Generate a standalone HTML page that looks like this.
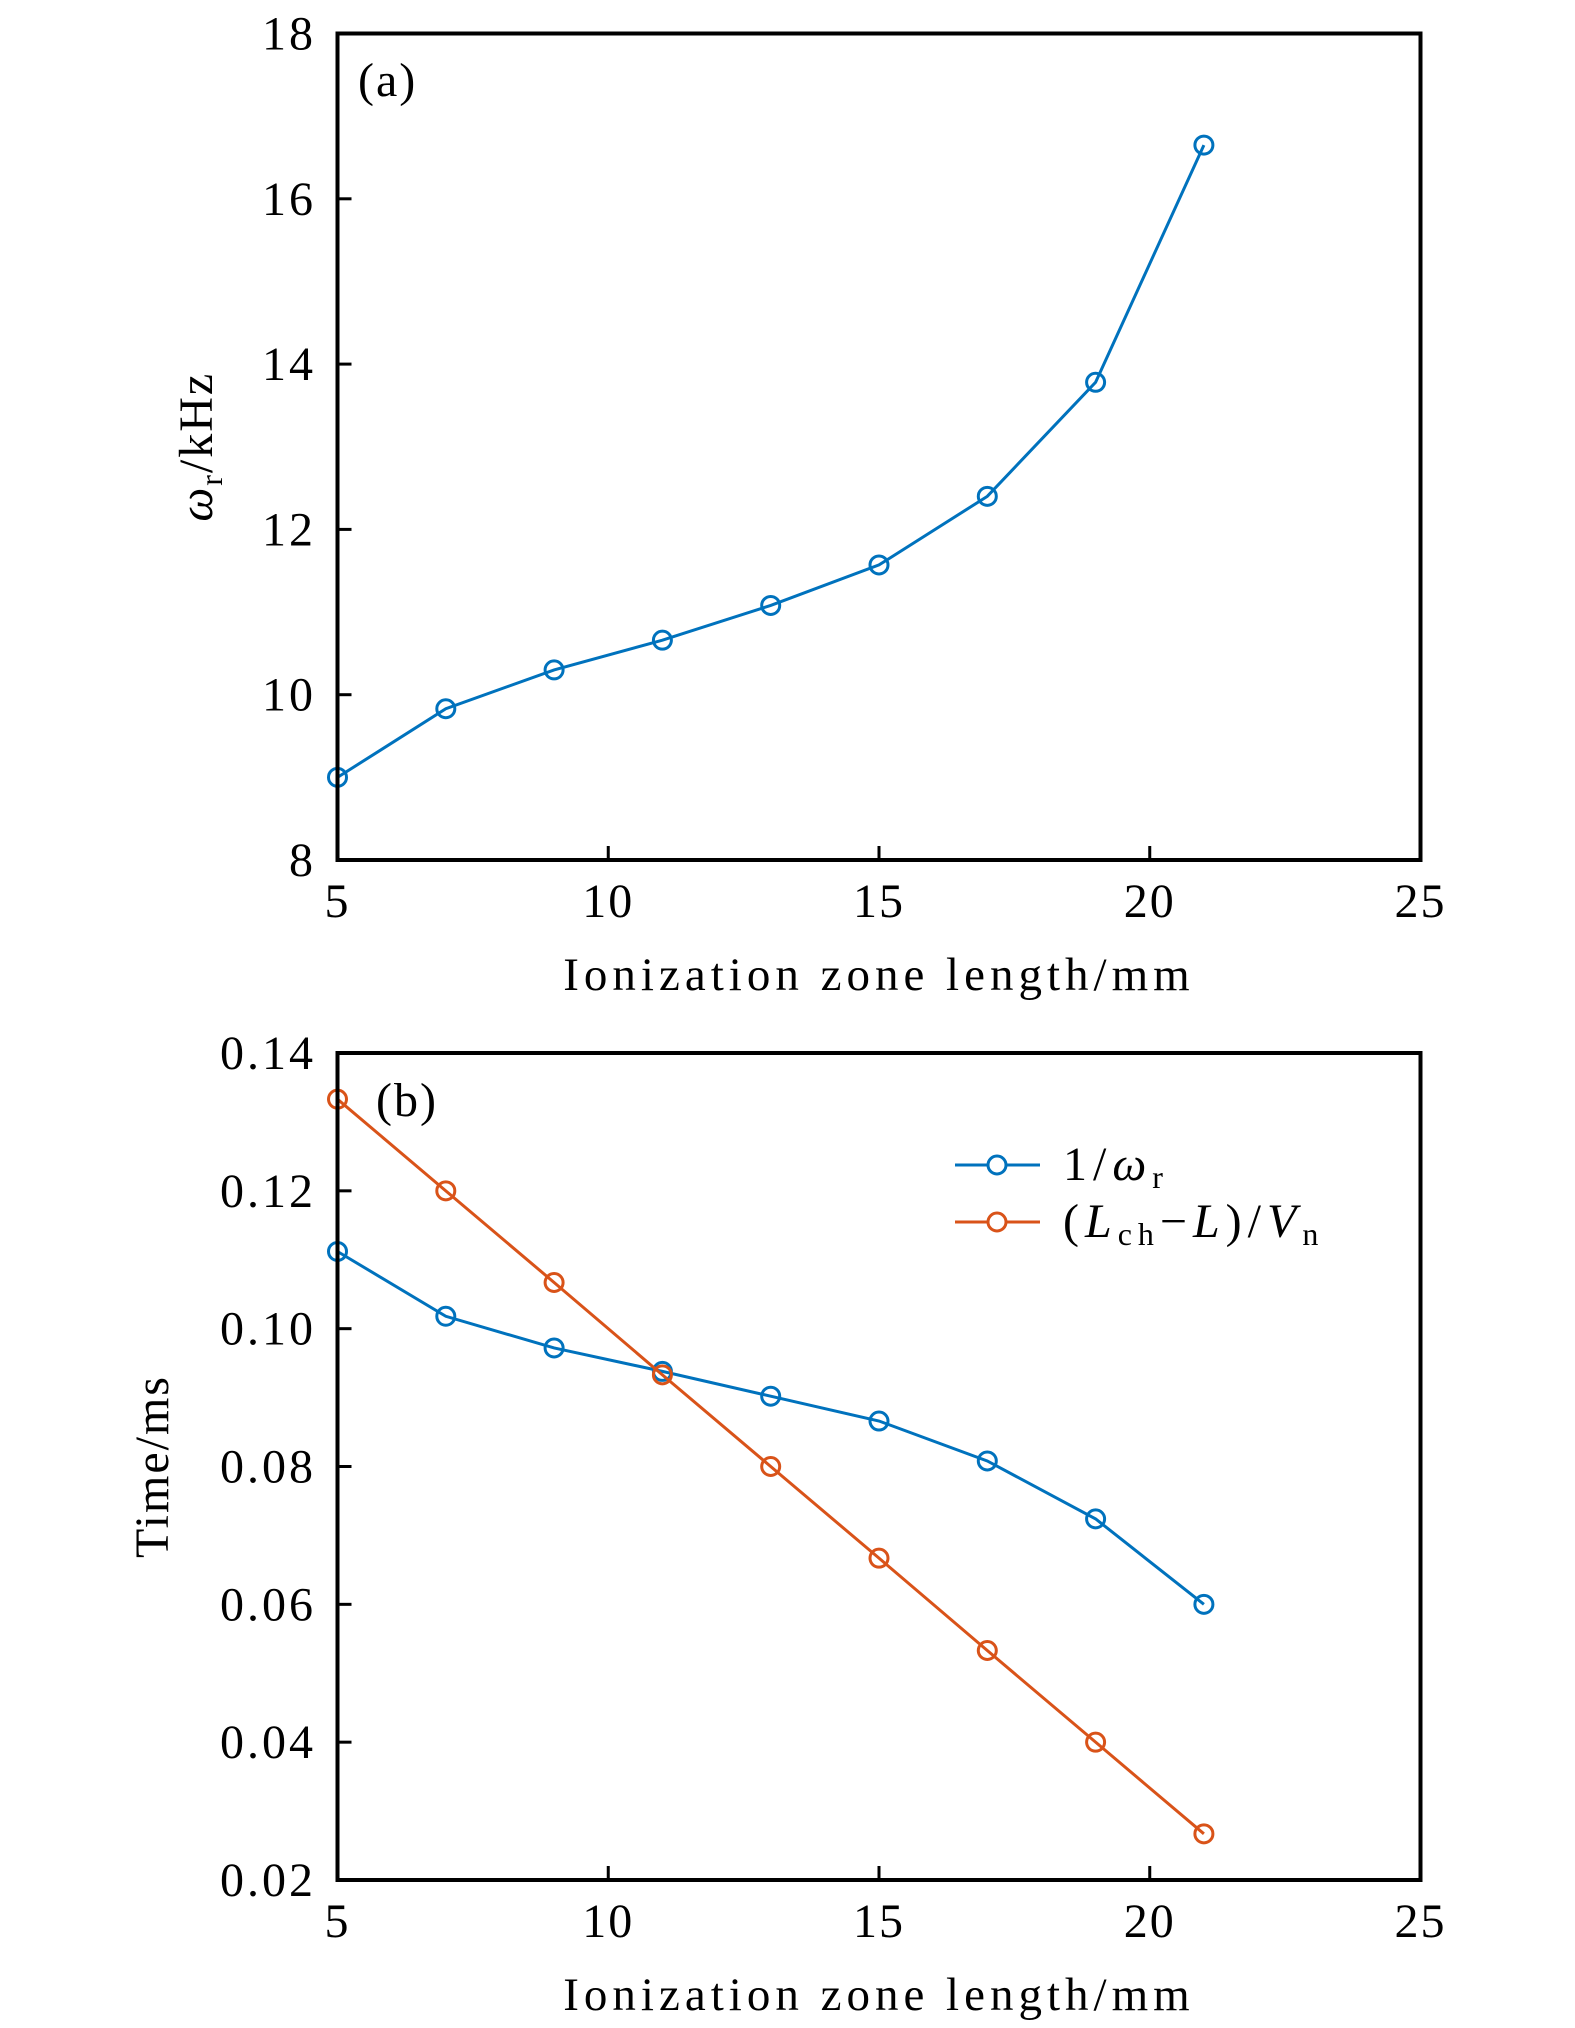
<!DOCTYPE html>
<html><head><meta charset="utf-8"><style>
html,body{margin:0;padding:0;background:#fff;}
svg{display:block;font-family:"Liberation Serif",serif;}
</style></head><body>
<svg id="fig" width="1575" height="2028" viewBox="0 0 1575 2028" xmlns="http://www.w3.org/2000/svg"></svg>
<script>
const xVals=[5,7,9,11,13,15,17,19,21];
const xTicks=[5,10,15,20,25];
const omegaVals=[9.0,9.83,10.3,10.66,11.08,11.57,12.4,13.78,16.65];
const aTicks=[8,10,12,14,16,18];
const invOmegaVals=[0.1112,0.1018,0.0972,0.0938,0.0902,0.0866,0.0808,0.0724,0.0600];
const transitVals=[0.1333,0.1200,0.1067,0.0933,0.0800,0.0667,0.0533,0.0400,0.0267];
const bTicks=[0.02,0.04,0.06,0.08,0.10,0.12,0.14];
const bTickLabels=["0.02","0.04","0.06","0.08","0.10","0.12","0.14"];

const NS="http://www.w3.org/2000/svg";
const svg=document.getElementById('fig');
const L=337.5,R=1420.5;
function sx(v){return L+(v-5)/20*(R-L);}
function mk(tag,attrs,parent){const e=document.createElementNS(NS,tag);for(const k in attrs)e.setAttribute(k,attrs[k]);(parent||svg).appendChild(e);return e;}
const BLUE="#0072BD",ORANGE="#D95319";

function panel(name,top,bot,ymin,ymax,ticks,tlabels,ylabelHTML,ylabX,letter,series){
  const g=mk('g',{});
  
  
  const sy=v=>bot-(v-ymin)/(ymax-ymin)*(bot-top);
  ticks.forEach((t,i)=>{
    const y=sy(t);
    const tk=mk('line',{x1:L,x2:L+14,y1:y,y2:y,stroke:'#000','stroke-width':3},g);
    
    
    const tx=mk('text',{x:316,y:y+16,'text-anchor':'end','font-size':48,'letter-spacing':'3'},g);
    tx.textContent=tlabels[i];
    
    
  });
  xTicks.forEach(t=>{
    const x=sx(t);
    const tk=mk('line',{x1:x,x2:x,y1:bot,y2:bot-14,stroke:'#000','stroke-width':3},g);
    
    
    const tx=mk('text',{x:x,y:bot+57,'text-anchor':'middle','font-size':48,'letter-spacing':'2'},g);
    tx.textContent=String(t);
    
    
  });
  const xt=mk('text',{x:(L+R)/2,y:bot+130,'text-anchor':'middle','font-size':47,'letter-spacing':'5'},g);
  xt.textContent='Ionization zone length/mm';
  
  
  const yt=mk('text',{x:0,y:0,'text-anchor':'middle','font-size':48,'letter-spacing':'2',transform:`translate(${ylabX},${(top+bot)/2}) rotate(-90)`},g);
  yt.innerHTML=ylabelHTML;
  
  
  series.forEach(s=>{
    const pts=xVals.map((x,i)=>sx(x)+','+sy(s.vals[i])).join(' ');
    const pl=mk('polyline',{points:pts,fill:'none',stroke:s.color,'stroke-width':3},g);
    
    
    xVals.forEach((x,i)=>{
      const c=mk('circle',{cx:sx(x),cy:sy(s.vals[i]),r:9,fill:'none',stroke:s.color,'stroke-width':3},g);
      
      
    });
  });
  const fr=mk('rect',{x:L,y:top,width:R-L,height:bot-top,fill:'none',stroke:'#000','stroke-width':4},g);
  
  
  const lt=mk('text',{x:letter[0],y:letter[1],'font-size':48,'letter-spacing':'2'},g);
  lt.textContent=letter[2];
  
  
  return sy;
}
panel('panel-a',33.5,860,8,18,aTicks,aTicks.map(String),'<tspan font-style="italic">ω</tspan><tspan font-size="32" dy="10">r</tspan><tspan dy="-10">/kHz</tspan>',212,[358,96,'(a)'],
  [{name:'omega',vals:omegaVals,color:BLUE}]);
panel('panel-b',1053,1880,0.02,0.14,bTicks,bTickLabels,'Time/ms',168,[376,1116,'(b)'],
  [{name:'inverse-omega',vals:invOmegaVals,color:BLUE},{name:'transit-time',vals:transitVals,color:ORANGE}]);

// legend
const lg=mk('g',{});


[[1165,BLUE,'1/<tspan font-style="italic">ω</tspan><tspan font-size="32" dy="8">r</tspan>'],
 [1222,ORANGE,'(<tspan font-style="italic">L</tspan><tspan font-size="32" dy="8">ch</tspan><tspan dy="-8">−</tspan><tspan font-style="italic">L</tspan>)/<tspan font-style="italic">V</tspan><tspan font-size="32" dy="8">n</tspan>']].forEach(e=>{
  const ln=mk('line',{x1:955,x2:1040,y1:e[0],y2:e[0],stroke:e[1],'stroke-width':3},lg);
  
  
  const c=mk('circle',{cx:997,cy:e[0],r:9,fill:'#fff',stroke:e[1],'stroke-width':3},lg);
  
  
  const t=mk('text',{x:1063,y:e[0]+15,'font-size':48,'letter-spacing':'6'},lg);
  t.innerHTML=e[2];
  
  
});
</script>
</body></html>
